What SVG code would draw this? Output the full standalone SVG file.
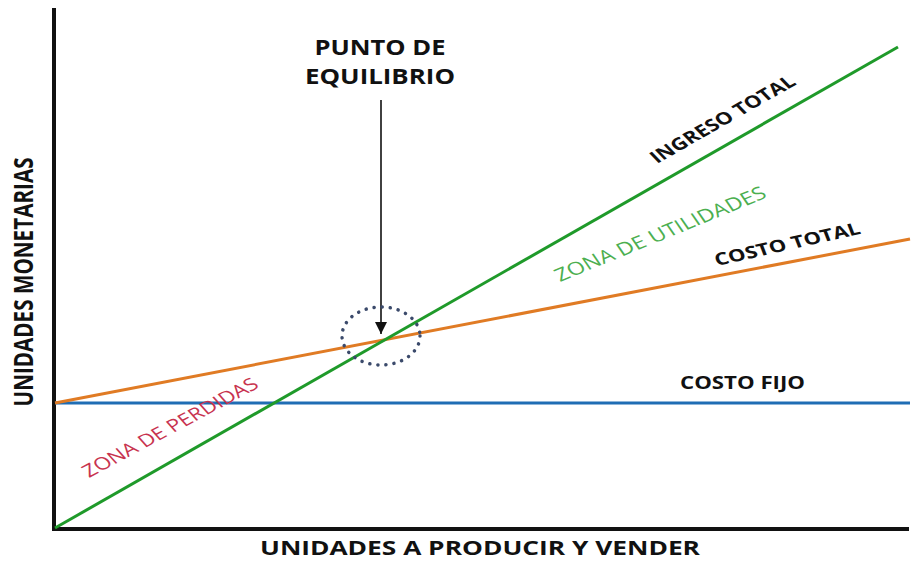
<svg xmlns="http://www.w3.org/2000/svg" width="912" height="561" viewBox="0 0 912 561">
<defs>
<style>
.lbl{font-family:"Open Sans","Liberation Sans",sans-serif;font-weight:700;fill:#111}
.zone{font-family:"Open Sans","Liberation Sans",sans-serif;font-weight:400}
</style>
<marker id="ah" markerWidth="12" markerHeight="12" refX="10" refY="5" orient="auto" markerUnits="userSpaceOnUse" viewBox="0 0 10 10">
<path d="M0,0 L10,5 L0,10 Z" fill="#111"/>
</marker>
</defs>
<rect width="912" height="561" fill="#fff"/>
<g id="axes" stroke="#111" stroke-width="4" fill="none">
<line x1="54" y1="8" x2="54" y2="530"/>
<line x1="52" y1="529" x2="909" y2="529"/>
</g>
<g id="connectors" fill="none" stroke-width="3">
<line id="costo-fijo" x1="55" y1="403" x2="910" y2="403" stroke="#1f6db4"/>
<line id="costo-total" x1="55" y1="403" x2="910" y2="239" stroke="#e07b24"/>
<line id="ingreso-total" x1="55" y1="528" x2="898" y2="47" stroke="#1f9a2a"/>
<line id="arrow" x1="381" y1="100" x2="381" y2="334" stroke="#111" stroke-width="1.6" marker-end="url(#ah)"/>
</g>
<g id="punto-equilibrio">
<ellipse cx="381" cy="336" rx="39" ry="29" fill="none" stroke="#3b4a6b" stroke-width="3.5" stroke-dasharray="0.1 8" stroke-linecap="round"/>
<text class="lbl" x="380" y="55" font-size="21" text-anchor="middle" textLength="131" lengthAdjust="spacingAndGlyphs">PUNTO DE</text>
<text class="lbl" x="380" y="84" font-size="21" text-anchor="middle" textLength="150" lengthAdjust="spacingAndGlyphs">EQUILIBRIO</text>
</g>
<g id="label-ingreso"><text class="lbl" font-size="17" transform="translate(657,164) scale(1.3,1) rotate(-36.6)">INGRESO TOTAL</text></g>
<g id="label-utilidades"><text class="zone" font-size="18" fill="#4caf50" transform="translate(560,282) scale(1.3,1) rotate(-28)">ZONA DE UTILIDADES</text></g>
<g id="label-costo-total"><text class="lbl" font-size="17" transform="translate(717,266) scale(1.3,1) rotate(-16.3)">COSTO TOTAL</text></g>
<g id="label-costo-fijo"><text class="lbl" font-size="17.5" x="680" y="389" textLength="125" lengthAdjust="spacingAndGlyphs">COSTO FIJO</text></g>
<g id="label-perdidas"><text class="zone" font-size="17.4" fill="#c8334f" transform="translate(89,478) scale(1.3,1) rotate(-34.7)">ZONA DE PERDIDAS</text></g>
<g id="label-y"><text class="lbl" font-size="22" text-anchor="middle" textLength="249" lengthAdjust="spacingAndGlyphs" transform="translate(33,282) scale(1.2,1) rotate(-90)">UNIDADES MONETARIAS</text></g>
<g id="label-x"><text class="lbl" font-size="20" x="480" y="555" text-anchor="middle" textLength="440" lengthAdjust="spacingAndGlyphs">UNIDADES A PRODUCIR Y VENDER</text></g>
</svg>
